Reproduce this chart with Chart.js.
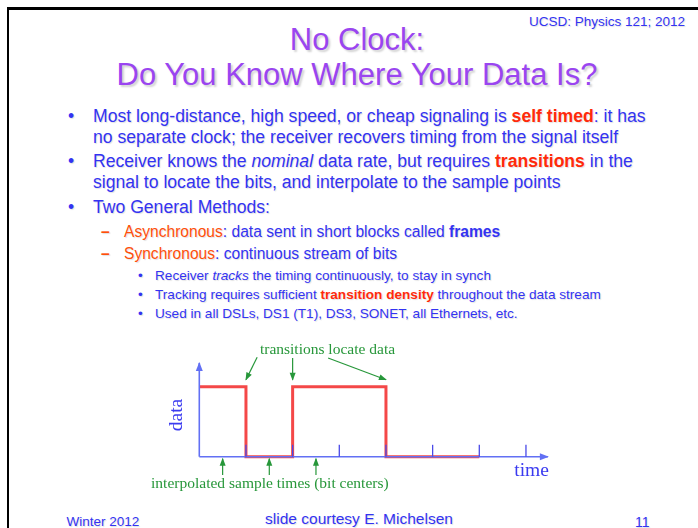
<!DOCTYPE html>
<html>
<head>
<meta charset="utf-8">
<script src="https://cdn.jsdelivr.net/npm/chart.js@4.4.1/dist/chart.umd.min.js"></script>
<style>
  html, body { margin:0; padding:0; background:#fff; }
  body { width:698px; height:528px; position:relative; overflow:hidden; font-family:"Liberation Sans", Arial, sans-serif; }
  .frameTop { position:absolute; left:7px; top:7px; width:700px; height:2.5px; background:#000; }
  .frameLeft { position:absolute; left:7px; top:7px; width:2px; height:530px; background:#000; }
  .t { position:absolute; white-space:nowrap; line-height:1; color:#3333f2; text-shadow:1px 1px 1px rgba(0,0,0,0.12); }
  .title { position:absolute; left:0; width:714px; text-align:center; font-size:31px; line-height:1; color:#9a45f0; text-shadow:2px 2px 2px rgba(0,0,0,0.18); white-space:nowrap; }
  .main { font-size:17.6px; }
  .sub { font-size:15.6px; }
  .subsub { font-size:13.6px; }
  .red { color:#ff2a0a; font-weight:bold; }
  .orange { color:#ff4f0a; }
  .dash { color:#ff4f0a; font-weight:bold; }
  b { font-weight:bold; }
  #chartBox { position:absolute; left:140px; top:330px; width:420px; height:180px; }
</style>
</head>
<body>
<div class="frameTop"></div>
<div class="frameLeft"></div>

<div class="t" style="right:13px; top:14.5px; font-size:13.5px;">UCSD: Physics 121; 2012</div>
<div class="title" style="top:23.8px;">No Clock:</div>
<div class="title" style="top:58.8px;">Do You Know Where Your Data Is?</div>

<div class="t main" style="left:68px; top:107.6px;">•</div>
<div class="t main" style="left:93px; top:107.6px;">Most long-distance, high speed, or cheap signaling is <span class="red">self timed</span>: it has</div>
<div class="t main" style="left:93px; top:128.6px;">no separate clock; the receiver recovers timing from the signal itself</div>
<div class="t main" style="left:68px; top:152.6px;">•</div>
<div class="t main" style="left:93px; top:152.6px;">Receiver knows the <i>nominal</i> data rate, but requires <span class="red">transitions</span> in the</div>
<div class="t main" style="left:93px; top:174.1px;">signal to locate the bits, and interpolate to the sample points</div>
<div class="t main" style="left:68px; top:199.4px;">•</div>
<div class="t main" style="left:93px; top:199.4px;">Two General Methods:</div>

<div class="t sub dash" style="left:101px; top:223.5px;">–</div>
<div class="t sub" style="left:124px; top:223.5px;"><span class="orange">Asynchronous</span>: data sent in short blocks called <b>frames</b></div>
<div class="t sub dash" style="left:101px; top:245.8px;">–</div>
<div class="t sub" style="left:124px; top:245.8px;"><span class="orange">Synchronous</span>: continuous stream of bits</div>

<div class="t subsub" style="left:138px; top:268.5px;">•</div>
<div class="t subsub" style="left:155px; top:268.5px;">Receiver <i>tracks</i> the timing continuously, to stay in synch</div>
<div class="t subsub" style="left:138px; top:287.5px;">•</div>
<div class="t subsub" style="left:155px; top:287.5px;">Tracking requires sufficient <span class="red">transition density</span> throughout the data stream</div>
<div class="t subsub" style="left:138px; top:306.5px;">•</div>
<div class="t subsub" style="left:155px; top:306.5px;">Used in all DSLs, DS1 (T1), DS3, SONET, all Ethernets, etc.</div>

<div id="chartBox"><canvas id="c" width="420" height="180"></canvas></div>

<div class="t" style="left:66.5px; top:515px; font-size:13.5px;">Winter 2012</div>
<div class="t" style="left:0; width:718px; text-align:center; top:510.5px; font-size:15.5px;">slide courtesy E. Michelsen</div>
<div class="t" style="left:635px; top:514.6px; font-size:14px;">11</div>

<script>
// ---- data ----
const bitLevels = [1, 0, 1, 1, 0, 0];          // signal level in each bit period
const tickTimes = [1, 2, 3, 4, 5, 6, 7];        // bit boundary tick marks on time axis
const sampleTimes = [0.5, 1.5, 2.5];            // interpolated sample times (bit centres)
const transitionTimes = [1, 2, 4];              // transitions pointed at
const transitionArrowStartX = [1.24, 2.0, 2.76];
const transitionArrowStartY = [1.42, 1.41, 1.41];
const transitionArrowTipY = 1.1;
const sampleArrowBottomY = -0.26;
const sampleArrowTipY = -0.03;
const timeAxisEnd = 7.47;
const dataAxisTop = 1.34;
const tickHeight = 0.17;
const labelTransitions = 'transitions locate data';
const labelSamples = 'interpolated sample times (bit centers)';
const labelData = 'data';
const labelTime = 'time';
const labelTransitionsPos = { x: 2.747, y: 1.524 };
const labelSamplesPos = { x: 1.512, y: -0.39 };
const labelDataPos = { x: -0.484, y: 0.596 };
const labelTimePos = { x: 7.12, y: -0.2 };

// ---- build datasets ----
const signalPoints = [];
bitLevels.forEach((lvl, i) => {
  signalPoints.push({ x: i, y: lvl });
  signalPoints.push({ x: i + 1, y: lvl });
});

const GREEN = '#27973a';
const AXIS_BLUE = '#6270f4';
const TICK_BLUE = '#4a4ae8';
const TEXT_BLUE = '#3a3af0';

const datasets = [];
datasets.push({ data: signalPoints, borderColor: '#f44848', borderWidth: 3, order: 3 });
datasets.push({ data: [{ x: 0, y: 0 }, { x: timeAxisEnd, y: 0 }], borderColor: AXIS_BLUE, borderWidth: 1.6, order: 1, arrowHead: { color: AXIS_BLUE, len: 8, half: 3.5 } });
datasets.push({ data: [{ x: 0, y: 0 }, { x: 0, y: dataAxisTop }], borderColor: AXIS_BLUE, borderWidth: 1.6, order: 1, arrowHead: { color: AXIS_BLUE, len: 8, half: 3.5 } });
tickTimes.forEach(t => {
  datasets.push({ data: [{ x: t, y: 0 }, { x: t, y: tickHeight }], borderColor: TICK_BLUE, borderWidth: 1.3, order: 0 });
});
sampleTimes.forEach(t => {
  datasets.push({ data: [{ x: t, y: sampleArrowBottomY }, { x: t, y: sampleArrowTipY }], borderColor: GREEN, borderWidth: 1.2, order: 0, arrowHead: { color: GREEN, len: 7, half: 3 } });
});
transitionTimes.forEach((t, i) => {
  datasets.push({ data: [{ x: transitionArrowStartX[i], y: transitionArrowStartY[i] }, { x: t, y: transitionArrowTipY }], borderColor: GREEN, borderWidth: 1.2, order: 0, arrowHead: { color: GREEN, len: 7, half: 3 } });
});

const arrowPlugin = {
  id: 'arrowHeads',
  afterDatasetsDraw(chart) {
    const ctx = chart.ctx;
    chart.data.datasets.forEach((ds, i) => {
      if (!ds.arrowHead) return;
      const pts = chart.getDatasetMeta(i).data;
      const a = pts[pts.length - 2], b = pts[pts.length - 1];
      const dx = b.x - a.x, dy = b.y - a.y;
      const L = Math.hypot(dx, dy) || 1;
      const ux = dx / L, uy = dy / L;
      const { len, half, color } = ds.arrowHead;
      const bx = b.x - ux * len, by = b.y - uy * len;
      ctx.save();
      ctx.fillStyle = color;
      ctx.beginPath();
      ctx.moveTo(b.x + ux, b.y + uy);
      ctx.lineTo(bx - uy * half, by + ux * half);
      ctx.lineTo(bx + uy * half, by - ux * half);
      ctx.closePath();
      ctx.fill();
      ctx.restore();
    });
  }
};

const labelPlugin = {
  id: 'labels',
  afterDraw(chart) {
    const ctx = chart.ctx;
    const xs = chart.scales.x, ys = chart.scales.y;
    const px = v => xs.getPixelForValue(v), py = v => ys.getPixelForValue(v);
    ctx.save();
    ctx.textAlign = 'center';
    ctx.textBaseline = 'middle';
    ctx.fillStyle = GREEN;
    ctx.font = '15.5px "Liberation Serif", "Times New Roman", serif';
    ctx.fillText(labelTransitions, px(labelTransitionsPos.x), py(labelTransitionsPos.y));
    ctx.fillText(labelSamples, px(labelSamplesPos.x), py(labelSamplesPos.y));
    ctx.fillStyle = TEXT_BLUE;
    ctx.font = '19.5px "Liberation Serif", "Times New Roman", serif';
    ctx.fillText(labelTime, px(labelTimePos.x), py(labelTimePos.y));
    ctx.translate(px(labelDataPos.x), py(labelDataPos.y));
    ctx.rotate(-Math.PI / 2);
    ctx.fillText(labelData, 0, 0);
    ctx.restore();
  }
};

new Chart(document.getElementById('c'), {
  type: 'line',
  data: { datasets },
  options: {
    responsive: false,
    animation: false,
    devicePixelRatio: 1,
    layout: { padding: 0 },
    elements: { point: { radius: 0, hoverRadius: 0 }, line: { tension: 0, borderCapStyle: 'butt', borderJoinStyle: 'miter' } },
    datasets: { line: { clip: false, fill: false } },
    plugins: { legend: { display: false }, tooltip: { enabled: false } },
    events: [],
    scales: {
      x: { type: 'linear', display: false, min: -1.2706, max: 7.7293 },
      y: { type: 'linear', display: false, min: -0.7614, max: 1.81 }
    }
  },
  plugins: [arrowPlugin, labelPlugin]
});
</script>
</body>
</html>
